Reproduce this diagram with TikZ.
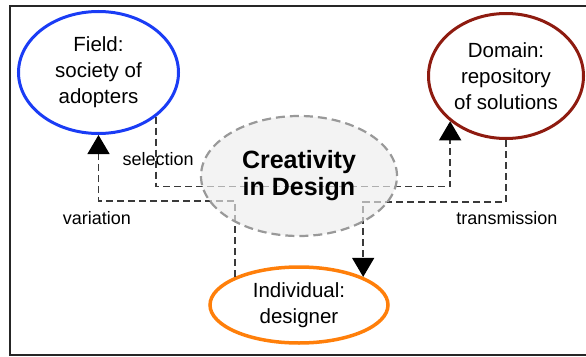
\documentclass[tikz,border=0pt]{standalone}
\usepackage{fontspec}
\setmainfont{Liberation Sans}
\usetikzlibrary{positioning,arrows.meta,shapes.geometric}

\definecolor{fieldblue}{HTML}{1A3CF5}
\definecolor{domainred}{HTML}{8E1B10}
\definecolor{designorange}{HTML}{FF7F0A}
\definecolor{linkgray}{HTML}{3A3A3A}

\begin{document}
\begin{tikzpicture}[
    x=1pt, y=-1pt,
    every node/.style={font=\fontsize{20.5}{26}\selectfont, align=center, inner sep=0pt},
    sphere/.style={ellipse, line width=3pt},
    lbl/.style={font=\fontsize{18}{22}\selectfont},
    link/.style={draw=linkgray, line width=1.4pt, dash pattern=on 7pt off 4pt,
                 -{Triangle[length=19pt,width=22pt,color=black]}}
  ]
  \useasboundingbox (0,0) rectangle (586,356);
  \draw[line width=1.2pt, black!85] (586,6) -- (10,6) -- (10,355) -- (586,355);

  % the three parties
  \node[sphere, draw=fieldblue, minimum width=160pt, minimum height=122pt]
    (Field) at (98.5,72.5) {Field:\\society of\\adopters};
  \node[sphere, draw=domainred, minimum width=155pt, minimum height=125pt]
    (Domain) at (506,76) {Domain:\\repository\\of solutions};
  \node[sphere, draw=designorange, line width=3.5pt, minimum width=178pt, minimum height=76pt]
    (Indiv) at (299,305) {Individual:\\designer};

  % flows between them
  \draw[link] (Field.south east)
    -- node[lbl, pos=0.6, xshift=2pt] (selLbl) {selection} ++(0,70)
    -| (Domain.south west);
  \draw[link] (Indiv.north west) -- ++(0,-76) -| (Field.south);
  \draw[link] (Domain.south) -- ++(0,62) -| (Indiv.north east);
  \node[lbl] (varLbl) at (97,218) {variation};
  \node[lbl] (transLbl) at (507,218) {transmission};

  % centre, drawn last so the flows show faintly through it
  \node[ellipse, draw=black!40, fill=black!7, fill opacity=0.65, text opacity=1,
        line width=2.2pt, dash pattern=on 9pt off 5pt,
        minimum width=196pt, minimum height=120pt,
        font=\fontsize{25}{27}\selectfont\bfseries]
    (Creat) at (299,176) {Creativity\\in Design};
\end{tikzpicture}
\end{document}
